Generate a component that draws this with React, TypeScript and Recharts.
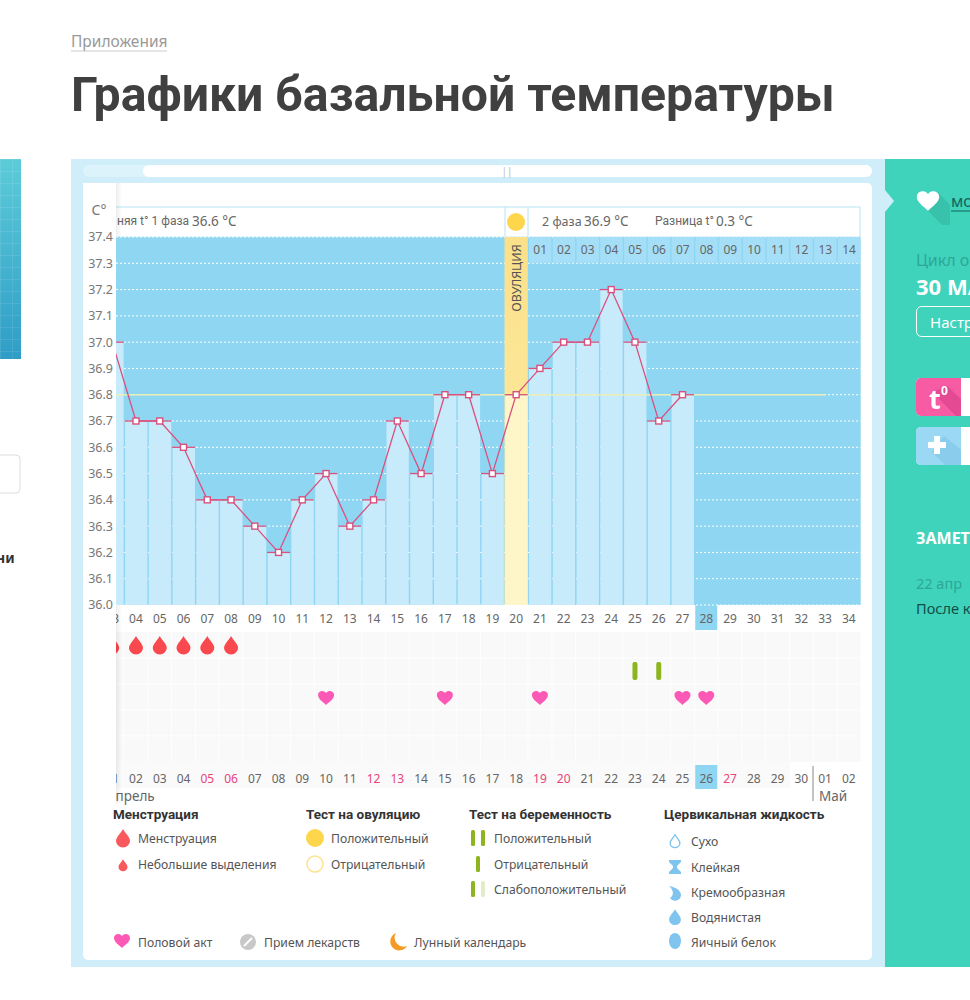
import React from 'react';
import {
  Bar, CartesianGrid, Cell, ComposedChart, LabelList, Line, ReferenceArea, ReferenceLine,
  Scatter, ScatterChart, XAxis, YAxis,
} from 'recharts';

// cycle days shown on the chart
const cycleDays = [3, 4, 5, 6, 7, 8, 9, 10, 11, 12, 13, 14, 15, 16, 17, 18, 19, 20, 21, 22, 23, 24, 25, 26, 27, 28, 29, 30, 31, 32, 33, 34];
const cycleLabels = ['03', '04', '05', '06', '07', '08', '09', '10', '11', '12', '13', '14', '15', '16', '17', '18', '19', '20', '21', '22', '23', '24', '25', '26', '27', '28', '29', '30', '31', '32', '33', '34'];
const dateLabels = ['01', '02', '03', '04', '05', '06', '07', '08', '09', '10', '11', '12', '13', '14', '15', '16', '17', '18', '19', '20', '21', '22', '23', '24', '25', '26', '27', '28', '29', '30', '01', '02'];
const temps = [37.0, 36.7, 36.7, 36.6, 36.4, 36.4, 36.3, 36.2, 36.4, 36.5, 36.3, 36.4, 36.7, 36.5, 36.8, 36.8, 36.5, 36.8, 36.9, 37.0, 37.0, 37.2, 37.0, 36.7, 36.8];
const phaseLabels = ['01', '02', '03', '04', '05', '06', '07', '08', '09', '10', '11', '12', '13', '14'];
const tempTicks = [36.0, 36.1, 36.2, 36.3, 36.4, 36.5, 36.6, 36.7, 36.8, 36.9, 37.0, 37.1, 37.2, 37.3, 37.4];
const weekendDates = ['05', '06', '12', '13', '19', '20', '27'];
const menstruationDays = [3, 4, 5, 6, 7, 8];
const testDays = [25, 26];
const heartDays = [12, 17, 21, 27, 28];
const ovulationDay = 20;
const todayCycleDay = 28;

const FONT = '"Noto Sans", sans-serif';
const NARROW = 'Roboto, sans-serif';
const dayDomain: [number, number] = [3.159, 34.5];

const tempRows = cycleDays.map((day, i) => ({
  day,
  temp: temps[i] ?? null,
  cell: day > ovulationDay ? [37.3, 37.4] : null,
  phase: day > ovulationDay ? phaseLabels[day - ovulationDay - 1] : '',
}));

const T = ({ x, y, s = 13, c = '#555', b = false, a = 'start', sp = 0, f = FONT, children }: any) => (
  <text x={x} y={y} fontSize={s} fill={c} fontWeight={b ? 700 : 400} textAnchor={a} letterSpacing={sp} dominantBaseline="central" fontFamily={f}>
    {children}
  </text>
);

const dropPath = 'M0 -9C2 -5 7 -1 7 3A7 6.5 0 1 1 -7 3C-7 -1 -2 -5 0 -9Z';
const heartPath = 'M0 7C-3 4 -8 1 -8 -3C-8 -6 -5.5 -7 -3.5 -7C-2 -7 -0.8 -6 0 -5C0.8 -6 2 -7 3.5 -7C5.5 -7 8 -6 8 -3C8 1 3 4 0 7Z';

const TempDot = ({ cx, cy, value }: any) => {
  if (value == null) return null;
  return (
    <g>
      <line x1={cx - 11.5} x2={cx + 11.5} y1={cy} y2={cy} stroke="#D8517E" strokeWidth={1.3} />
      <rect x={cx - 3} y={cy - 3} width={6} height={6} fill="#fff" stroke="#D8517E" strokeWidth={1.4} />
    </g>
  );
};

const CycleTick = ({ x, y, payload }: any) => {
  const i = cycleDays.indexOf(payload.value);
  return (
    <g>
      {payload.value === todayCycleDay && <rect x={x - 11} y={y - 25} width={22} height={25} fill="#8FD6F3" />}
      <T x={x} y={y - 12} s={12} c="#666" a="middle">{cycleLabels[i]}</T>
    </g>
  );
};

const DateTick = ({ x, y, payload }: any) => {
  const i = cycleDays.indexOf(payload.value);
  const label = dateLabels[i];
  const today = payload.value === todayCycleDay;
  return (
    <g>
      {today && <rect x={x - 11} y={y + 1} width={22} height={24} fill="#8FD6F3" />}
      <T x={x} y={y + 14} s={12} c={weekendDates.includes(label) ? '#E8437A' : '#666'} a="middle">{label}</T>
    </g>
  );
};

const DropShape = ({ cx, cy }: any) => <path transform={`translate(${cx},${cy})`} d={dropPath} fill="#F9484E" />;
const HeartShape = ({ cx, cy }: any) => <path transform={`translate(${cx},${cy + 1})`} d={heartPath} fill="#FC59B6" />;
const TestShape = ({ cx, cy }: any) => <rect x={cx - 2.5} y={cy - 9} width={5} height={18} rx={2} fill="#8DB51F" />;

function TempChart() {
  return (
    <ComposedChart width={800} height={410} data={tempRows} margin={{ top: 37, right: 22.3, bottom: 5, left: 0 }}>
      <defs>
        <linearGradient id="ovu" x1="0" y1="0" x2="0" y2="1">
          <stop offset="0" stopColor="#FBE08A" />
          <stop offset="1" stopColor="#FDEFA8" />
        </linearGradient>
      </defs>
      <CartesianGrid vertical={false} stroke="#fff" strokeDasharray="2 2" fill="#8FD6F3" />
      <XAxis dataKey="day" type="number" domain={dayDomain} allowDataOverflow hide />
      <XAxis xAxisId="cells" dataKey="day" type="number" domain={dayDomain} allowDataOverflow hide />
      <YAxis
        type="number"
        domain={[36, 37.4]}
        ticks={tempTicks}
        interval={0}
        width={33}
        axisLine={false}
        tickLine={false}
        tickSize={0}
        tickMargin={3}
        tickFormatter={(v: number) => v.toFixed(1)}
        tick={{ fontSize: 12.5, fill: '#777', fontFamily: FONT }}
      />
      <ReferenceArea x1={ovulationDay - 0.49} x2={ovulationDay + 0.49} y1={36} y2={37.4} fill="url(#ovu)" fillOpacity={1} stroke="none" />
      <Bar dataKey="temp" barSize={22.3} isAnimationActive={false} fill="#C8EBFB">
        {tempRows.map((r) => (
          <Cell key={r.day} fill={r.day === ovulationDay ? '#FEF6C9' : '#C8EBFB'} />
        ))}
      </Bar>
      <Bar xAxisId="cells" dataKey="cell" barSize={22.3} isAnimationActive={false} fill="#A5DFF7">
        <LabelList dataKey="phase" position="center" fontSize={12} fill="#666" fontFamily={FONT} />
      </Bar>
      <ReferenceLine
        segment={[{ x: 3.17, y: 36.8 }, { x: 33, y: 36.8 }]}
        stroke="#E9EFB4"
        strokeWidth={1.5}
      />
      <Line
        dataKey="temp"
        stroke="#D8517E"
        strokeWidth={1.3}
        dot={<TempDot />}
        activeDot={false}
        connectNulls={false}
        isAnimationActive={false}
      />
    </ComposedChart>
  );
}

const gridX = cycleDays.map((d) => d - 0.5);
const gridY = [1.5, 2.5, 3.5, 4.5];

function SymptomChart() {
  return (
    <ScatterChart width={800} height={200} margin={{ top: 31, right: 22.3, bottom: 37, left: 33 }}>
      <CartesianGrid xAxisId="top" fill="#F9F9F9" stroke="#FEFEFE" verticalValues={gridX} horizontalValues={gridY} />
      <XAxis
        xAxisId="top"
        orientation="top"
        dataKey="day"
        type="number"
        domain={dayDomain}
        allowDataOverflow
        ticks={cycleDays}
        interval={0}
        height={1}
        tickSize={0}
        axisLine={false}
        tick={<CycleTick />}
      />
      <XAxis
        xAxisId="bottom"
        orientation="bottom"
        dataKey="day"
        type="number"
        domain={dayDomain}
        allowDataOverflow
        ticks={cycleDays}
        interval={0}
        height={1}
        tickSize={0}
        axisLine={false}
        tick={<DateTick />}
      />
      <YAxis dataKey="row" type="number" domain={[0.5, 5.5]} reversed hide />
      <Scatter xAxisId="top" data={menstruationDays.map((day) => ({ day, row: 1 }))} shape={<DropShape />} isAnimationActive={false} />
      <Scatter xAxisId="top" data={testDays.map((day) => ({ day, row: 2 }))} shape={<TestShape />} isAnimationActive={false} />
      <Scatter xAxisId="top" data={heartDays.map((day) => ({ day, row: 3 }))} shape={<HeartShape />} isAnimationActive={false} />
    </ScatterChart>
  );
}

const Tr = ({ x, y, d, f, s = 1 }: any) => <path transform={`translate(${x},${y}) scale(${s})`} d={d} fill={f} />;
const Gb = ({ x, y, o = 1 }: any) => <rect x={x - 2} y={y - 8} width={4} height={16} rx={1.5} fill="#8DB51F" opacity={o} />;

function Background() {
  return (
    <svg width={970} height={1000} style={{ position: 'absolute', left: 0, top: 0 }}>
      <defs>
        <linearGradient id="tile" x1="0" y1="0" x2="0" y2="1">
          <stop offset="0" stopColor="#5CCBD9" />
          <stop offset="1" stopColor="#2F9DC6" />
        </linearGradient>
        <pattern id="tileGrid" width="12" height="12" patternUnits="userSpaceOnUse" y={159}>
          <path d="M12 0H0V12" fill="none" stroke="#fff" strokeOpacity={0.18} />
        </pattern>
      </defs>
      {/* left column leftovers */}
      <rect x={0} y={159} width={21} height={200} fill="url(#tile)" />
      <rect x={0} y={159} width={21} height={200} fill="url(#tileGrid)" />
      <rect x={-5} y={455} width={25} height={38} rx={4} fill="#fff" stroke="#ddd" />
      <T x={-4} y={557} s={14} c="#333" b>ни</T>

      {/* heading */}
      <T x={71} y={94} s={48.2} c="#404040" b f={NARROW}>Графики базальной температуры</T>
      <T x={71} y={41} s={15.5} c="#999">Приложения</T>
      <line x1={71} x2={167} y1={51} y2={51} stroke="#ccc" />

      {/* app frame */}
      <rect x={71} y={159} width={814} height={808} fill="#CFEEFA" />
      <rect x={83} y={165} width={789} height={12} rx={6} fill="#DDF3FC" />
      <rect x={143} y={165} width={729} height={12} rx={6} fill="#fff" />
      <T x={507} y={171} s={10} c="#bbb" a="middle">||</T>
      <rect x={83} y={183} width={789} height={777} rx={5} fill="#fff" />

      {/* header strip above the plot */}
      <rect x={100} y={207} width={760} height={30} fill="#fff" stroke="#B8E3F4" />
      <line x1={505} x2={505} y1={207} y2={237} stroke="#B8E3F4" />
      <line x1={528} x2={528} y1={207} y2={237} stroke="#B8E3F4" />
      <circle cx={516} cy={222} r={9} fill="#FDD64B" />
      <T x={117} y={221} s={12} c="#666" f={NARROW}>няя t° 1 фаза</T>
      <T x={192} y={221} s={13.5} c="#666">36.6 °C</T>
      <T x={542} y={221} s={12.5} c="#666">2 фаза</T>
      <T x={584} y={221} s={13.5} c="#666">36.9 °C</T>
      <T x={655} y={221} s={12} c="#666" f={NARROW}>Разница t°</T>
      <T x={716} y={221} s={13.5} c="#666">0.3 °C</T>

      {/* date row backdrop */}
      <rect x={116} y={762} width={674} height={26} fill="#FAFAFA" />
      <line x1={813} x2={813} y1={766} y2={801} stroke="#888" />
      <T x={107} y={796} s={13.5} c="#666">Апрель</T>
      <T x={819} y={796} s={13.5} c="#666">Май</T>

      {/* legend */}
      <T x={113} y={814} s={13.5} c="#333" b f={NARROW}>Менструация</T>
      <Tr x={123} y={838} d={dropPath} f="#F9585C" />
      <T x={138} y={838} s={12.2} c="#555">Менструация</T>
      <Tr x={123} y={865} d={dropPath} f="#F9585C" s={0.65} />
      <T x={138} y={864} s={12.2} c="#555">Небольшие выделения</T>

      <T x={306} y={814} s={13.5} c="#333" b f={NARROW}>Тест на овуляцию</T>
      <circle cx={315} cy={838} r={9} fill="#FDD64B" />
      <T x={331} y={838} s={12.2} c="#555">Положительный</T>
      <circle cx={315} cy={864} r={8} fill="#fff" stroke="#FBE38F" strokeWidth={1.5} />
      <T x={331} y={864} s={12.2} c="#555">Отрицательный</T>

      <T x={469} y={814} s={13.5} c="#333" b f={NARROW}>Тест на беременность</T>
      <Gb x={473} y={838} />
      <Gb x={483} y={838} />
      <T x={494} y={838} s={12.2} c="#555">Положительный</T>
      <Gb x={478} y={864} />
      <T x={494} y={864} s={12.2} c="#555">Отрицательный</T>
      <Gb x={473} y={889} />
      <Gb x={483} y={889} o={0.25} />
      <T x={494} y={889} s={12.2} c="#555">Слабоположительный</T>

      <T x={664} y={814} s={13.5} c="#333" b f={NARROW}>Цервикальная жидкость</T>
      <path transform="translate(675,841) scale(0.7)" d={dropPath} fill="#fff" stroke="#7FC4EE" strokeWidth={2} />
      <T x={691} y={841} s={12.2} c="#555">Сухо</T>
      <path d="M669 860H681V862L677 866V868L681 872V874H669V872L673 868V866L669 862Z" fill="#7FC4EE" />
      <T x={691} y={867} s={12.2} c="#555">Клейкая</T>
      <path d="M669 886C675 887 681 890 681 895A6 6 0 0 1 670 898C674 896 674 890 669 886Z" fill="#7FC4EE" />
      <T x={691} y={892} s={12.2} c="#555">Кремообразная</T>
      <Tr x={675} y={917} d={dropPath} f="#7FC4EE" s={0.85} />
      <T x={691} y={917} s={12.2} c="#555">Водянистая</T>
      <ellipse cx={675} cy={941} rx={6} ry={8} fill="#7FC4EE" />
      <T x={691} y={942} s={12.2} c="#555">Яичный белок</T>

      <Tr x={122} y={941} d={heartPath} f="#FC59B6" />
      <T x={138} y={942} s={12.2} c="#555">Половой акт</T>
      <circle cx={248} cy={942} r={8} fill="#C8C8C8" />
      <line x1={244} x2={252} y1={946} y2={938} stroke="#fff" strokeWidth={2} />
      <T x={264} y={942} s={12.2} c="#555">Прием лекарств</T>
      <path d="M396 933A9 9 0 1 0 407 946A9 9 0 0 1 396 933Z" fill="#F59A23" />
      <T x={414} y={942} s={12.2} c="#555">Лунный календарь</T>

      {/* right column, cut by the window edge */}
      <rect x={885} y={159} width={85} height={808} fill="#40D3BC" />
      <path d="M885 190L894 201L885 212Z" fill="#CFEEFA" />
      <path d="M918 201L942 225H950V205L938 192Z" fill="#2FAE9A" opacity={0.45} />
      <Tr x={928} y={201} d={heartPath} f="#fff" s={1.4} />
      <T x={951} y={201} s={16} c="#11635A">мо</T>
      <line x1={951} x2={970} y1={211} y2={211} stroke="#11635A" />
      <T x={916} y={260} s={16} c="#2BA897">Цикл о</T>
      <T x={916} y={286} s={22} c="#fff" b>30 МА</T>
      <rect x={916.5} y={306.5} width={70} height={30} rx={5} fill="none" stroke="#fff" />
      <T x={930} y={322} s={15} c="#fff">Настр</T>
      <rect x={916} y={378} width={60} height={38} rx={5} fill="#fff" />
      <rect x={916} y={378} width={45} height={38} rx={5} fill="#F65BA4" />
      <rect x={955} y={378} width={6} height={38} fill="#F65BA4" />
      <path d="M932 392L956 416H961V399L947 386Z" fill="#D93F8B" opacity={0.6} />
      <T x={929} y={398} s={27} c="#fff" b>t</T>
      <T x={941} y={390} s={12} c="#fff" b>0</T>
      <rect x={916} y={427} width={60} height={38} rx={5} fill="#fff" />
      <rect x={916} y={427} width={45} height={38} rx={5} fill="#9AD8F3" />
      <rect x={955} y={427} width={6} height={38} fill="#9AD8F3" />
      <path d="M932 452L945 465H961V450L944 436Z" fill="#7FC4E6" opacity={0.6} />
      <path d="M934 436H940V442H946V448H940V454H934V448H928V442H934Z" fill="#fff" />
      <T x={916} y={538} s={16} c="#fff" b>ЗАМЕТ</T>
      <T x={916} y={583} s={14.5} c="#2BA897">22 апр</T>
      <T x={916} y={608} s={14.5} c="#0F4F47">После к</T>
    </svg>
  );
}

export default function App() {
  return (
    <div style={{ position: 'absolute', left: 0, top: 0, width: 970, height: 1000, overflow: 'hidden', background: '#fff' }}>
      <Background />
      <div style={{ position: 'absolute', left: 83, top: 600 }}>
        <SymptomChart />
      </div>
      {/* frozen y axis panel, it hides what scrolled past the left edge */}
      <div style={{ position: 'absolute', left: 83, top: 183, width: 33, height: 620, background: '#fff' }} />
      <div style={{ position: 'absolute', left: 116, top: 183, width: 6, height: 620, background: 'linear-gradient(to right, rgba(0,0,0,0.07), rgba(0,0,0,0))' }} />
      <div style={{ position: 'absolute', left: 83, top: 200 }}>
        <TempChart />
      </div>
      <svg width={970} height={1000} style={{ position: 'absolute', left: 0, top: 0, pointerEvents: 'none' }}>
        <T x={99} y={209} s={14} c="#777" a="middle">C°</T>
        <g transform="translate(516,278) rotate(-90)">
          <T x={0} y={0} s={12.5} c="#555" a="middle">ОВУЛЯЦИЯ</T>
        </g>
      </svg>
    </div>
  );
}
